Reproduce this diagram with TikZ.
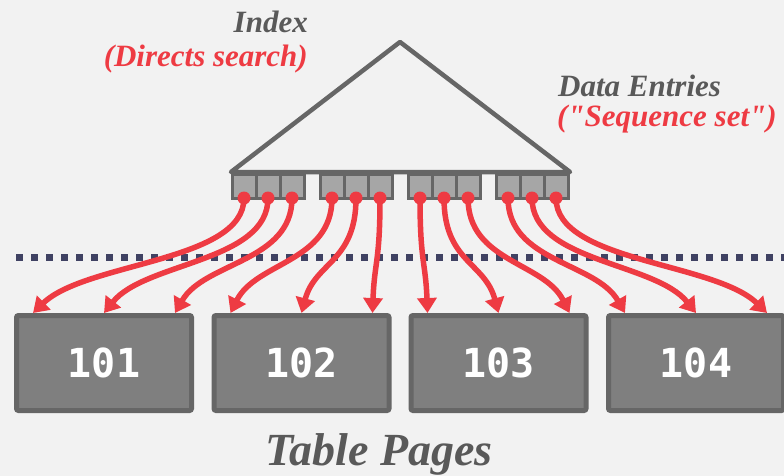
\documentclass[tikz,border=0pt]{standalone}
\usepackage{fontspec}
\setmainfont{Liberation Serif}
\setmonofont{DejaVu Sans Mono}
\usetikzlibrary{calc,arrows.meta}

\definecolor{bgray}{HTML}{F2F2F2}
\definecolor{lgray}{HTML}{666666}
\definecolor{kgray}{HTML}{A6A6A6}
\definecolor{pgray}{HTML}{7F7F7F}
\definecolor{tgray}{HTML}{595959}
\definecolor{ered}{HTML}{EE3B43}
\definecolor{navy}{HTML}{404263}

\begin{document}
\begin{tikzpicture}[x=1pt, y=-1pt,
    key/.style={draw=lgray, fill=kgray, line width=3pt, minimum width=24pt, minimum height=24pt, inner sep=0pt},
    page/.style={draw=lgray, fill=pgray, line width=5pt, rounded corners=2pt, minimum width=175pt, minimum height=95pt, text=white, text depth=0pt, font=\ttfamily\bfseries\fontsize{40}{40}\selectfont},
    link/.style={draw=ered, line width=5.5pt, -{Triangle[width=19pt,length=15pt]}},
    label/.style={inner sep=0pt, text=tgray, font=\bfseries\itshape\fontsize{31}{36}\selectfont}]
    \fill[bgray] (0,0) rectangle (784,476);
    \useasboundingbox (0,0) rectangle (784,476);

    % index tree
    \coordinate (A) at (400,42);
    \coordinate (L) at (231,172);
    \coordinate (R) at (570,172);
    \draw[lgray, line width=4.5pt, fill=bgray, line join=round] (L)--(A)--(R)--cycle;

    % data entries
    \foreach \x [count=\i] in {244,268,292,332,356,380,420,444,468,508,532,556}
        \node[key] (k\i) at (\x,186.5) {};

    % separator
    \coordinate (m) at (0,262);
    \draw[navy, line width=7pt, dash pattern=on 7pt off 8pt] (16,257)--(784,257);

    % table pages
    \node[page] (p1) at (104,363) {101};
    \node[page] (p2) at (301.5,363) {102};
    \node[page] (p3) at (498.5,363) {103};
    \node[page] (p4) at (696,363) {104};

    \foreach \p in {1,...,4}
        \foreach \s [count=\n] in {-71,0,71} {
            \pgfmathtruncatemacro\i{3*(\p-1)+\n}
            \coordinate (t\i) at ($(p\p.north)+(\s,0)$);
        }

    % pointers
    \foreach \i in {1,...,12} {
        \coordinate (d\i) at ($(k\i.south)+(0,-2)$);
        \coordinate (c\i) at ($(t\i)!0.25!(d\i)$);
        \draw[link] (d\i) .. controls (d\i |- m) and (c\i |- m) .. (t\i);
        \fill[ered] (d\i) circle (6.5pt);
    }

    % labels
    \node[label, anchor=base east] (idx) at (308,33) {Index};
    \node[label, anchor=base east, text=ered] (dir) at (308,67) {(Directs search)};
    \node[label, anchor=base west] (dat) at (558,97) {Data Entries};
    \node[label, anchor=base west, text=ered] (seq) at (557,127) {(\textquotedbl Sequence set\textquotedbl)};
    \node[label, anchor=base, font=\bfseries\itshape\fontsize{46}{50}\selectfont] (tbl) at (379,465) {Table Pages};
\end{tikzpicture}
\end{document}
